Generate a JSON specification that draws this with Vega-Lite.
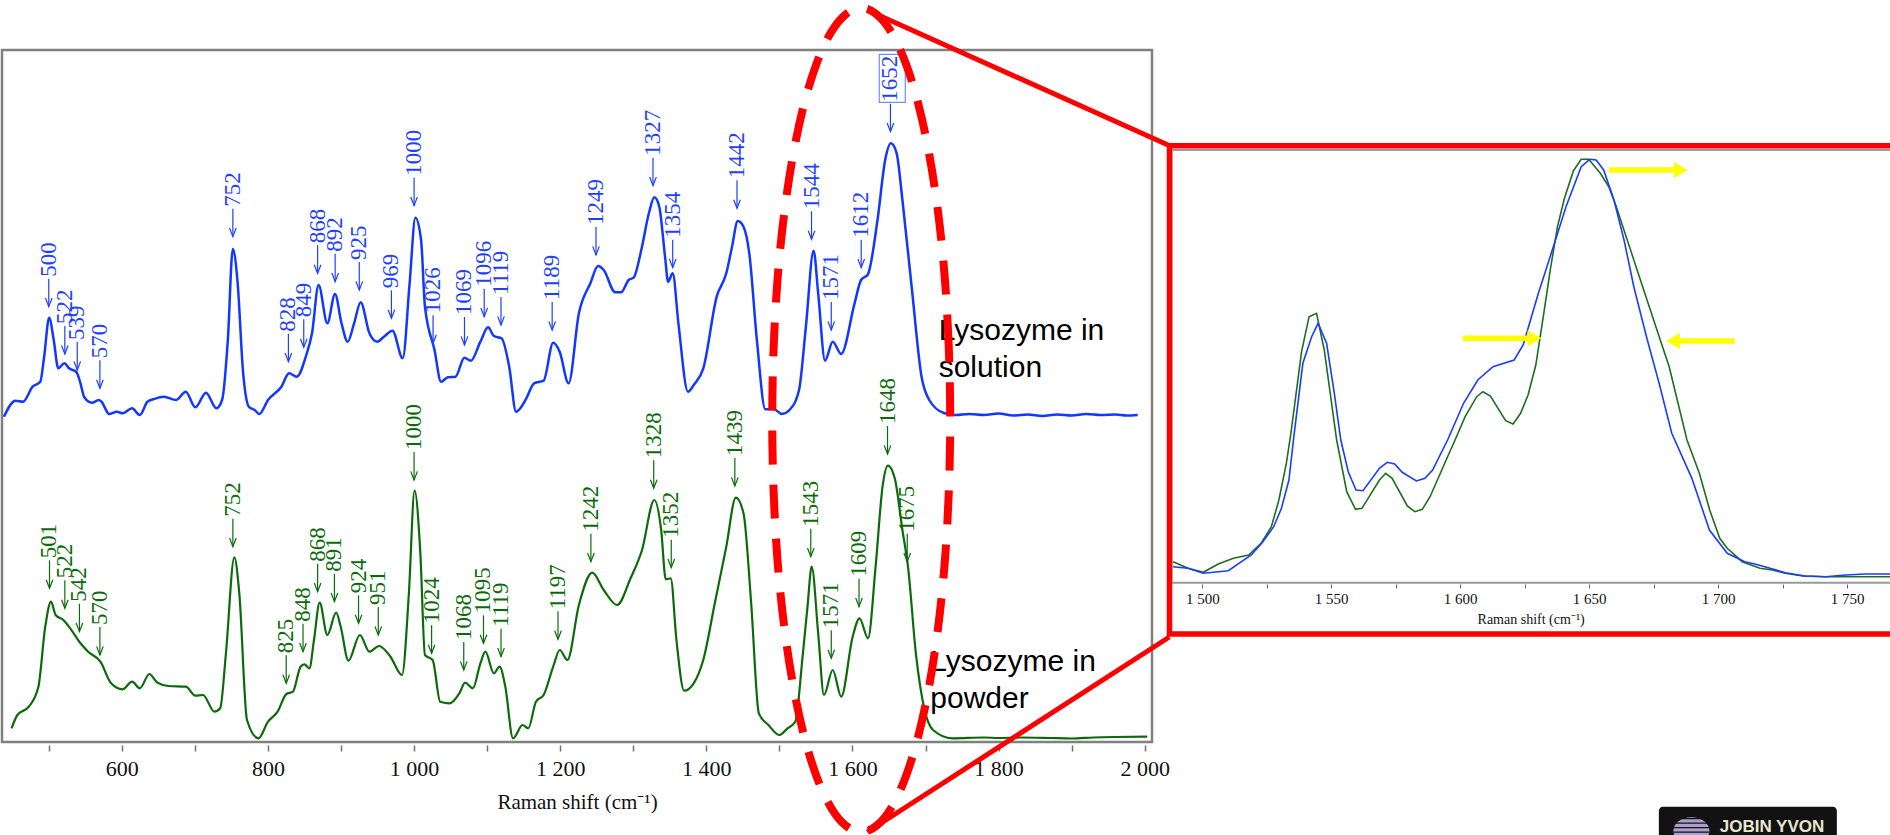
{
"$schema": "https://vega.github.io/schema/vega-lite/v6.json",
"width": 1890, "height": 835, "autosize": "none", "padding": 0, "background": "white",
"config": {"view": {"stroke": null}},
"datasets": {
 "blueLabels": [
  {"shift":500,"intensity":435.3,"label":"500"},{"shift":522,"intensity":388,"label":"522"},{"shift":539,"intensity":372,"label":"539"},{"shift":570,"intensity":353.7,"label":"570"},{"shift":752,"intensity":505.3,"label":"752"},{"shift":828,"intensity":380.3,"label":"828"},{"shift":849,"intensity":394.7,"label":"849"},{"shift":868,"intensity":468.7,"label":"868"},{"shift":892,"intensity":460.3,"label":"892"},{"shift":925,"intensity":452,"label":"925"},{"shift":969,"intensity":423.7,"label":"969"},{"shift":1000,"intensity":536.3,"label":"1000"},{"shift":1026,"intensity":398.7,"label":"1026"},{"shift":1069,"intensity":397,"label":"1069"},{"shift":1096,"intensity":425.3,"label":"1096"},{"shift":1119,"intensity":417,"label":"1119"},{"shift":1189,"intensity":412,"label":"1189"},{"shift":1249,"intensity":487,"label":"1249"},{"shift":1327,"intensity":556.3,"label":"1327"},{"shift":1354,"intensity":474.3,"label":"1354"},{"shift":1442,"intensity":533.7,"label":"1442"},{"shift":1544,"intensity":502.7,"label":"1544"},{"shift":1571,"intensity":412,"label":"1571"},{"shift":1612,"intensity":474.3,"label":"1612"},{"shift":1652,"intensity":610.3,"label":"1652"}
 ],
 "greenLabels": [
  {"shift":501,"intensity":153.7,"label":"501"},{"shift":522,"intensity":133.7,"label":"522"},{"shift":542,"intensity":110.3,"label":"542"},{"shift":570,"intensity":87,"label":"570"},{"shift":752,"intensity":195.3,"label":"752"},{"shift":825,"intensity":58.7,"label":"825"},{"shift":848,"intensity":90.3,"label":"848"},{"shift":868,"intensity":150.3,"label":"868"},{"shift":891,"intensity":140.3,"label":"891"},{"shift":924,"intensity":118.7,"label":"924"},{"shift":951,"intensity":107,"label":"951"},{"shift":1000,"intensity":262,"label":"1000"},{"shift":1024,"intensity":88.7,"label":"1024"},{"shift":1068,"intensity":72,"label":"1068"},{"shift":1095,"intensity":98.7,"label":"1095"},{"shift":1119,"intensity":85.3,"label":"1119"},{"shift":1197,"intensity":102.7,"label":"1197"},{"shift":1242,"intensity":180.3,"label":"1242"},{"shift":1328,"intensity":253.7,"label":"1328"},{"shift":1352,"intensity":174.3,"label":"1352"},{"shift":1439,"intensity":256,"label":"1439"},{"shift":1543,"intensity":185.3,"label":"1543"},{"shift":1571,"intensity":83.7,"label":"1571"},{"shift":1609,"intensity":135.3,"label":"1609"},{"shift":1648,"intensity":288,"label":"1648"},{"shift":1675,"intensity":180.3,"label":"1675"}
 ]
},
"resolve": {"scale": {"x": "independent", "y": "independent"}, "axis": {"x": "independent", "y": "independent"}},
"layer": [
{
"encoding": {
 "x": {"field": "shift", "type": "quantitative", "scale": {"domain": [436, 2010], "range": [2, 1152], "nice": false, "zero": false},
  "axis": {"orient": "bottom", "offset": -90, "title": "Raman shift (cm⁻¹)", "values": [500,600,700,800,900,1000,1100,1200,1300,1400,1500,1600,1700,1800,1900,2000],
   "labelExpr": "datum.value % 200 == 0 ? replace(format(datum.value, ','), ',', ' ') : ''",
   "domain": false, "grid": false, "tickSize": 6, "tickColor": "#707070", "tickWidth": 1.5,
   "labelFont": "Liberation Serif", "labelFontSize": 22, "labelColor": "#111", "labelPadding": 7, "labelOverlap": false, "labelFlush": false,
   "titleFont": "Liberation Serif", "titleFontSize": 21, "titleFontWeight": "normal", "titleColor": "#111", "titlePadding": 12}},
 "y": {"field": "intensity", "type": "quantitative", "scale": {"domain": [0, 692], "range": [742, 50], "nice": false, "zero": false}, "axis": null}
},
"layer": [
 {"data": {"values": [{"shift": 436, "shift2": 2010, "intensity": 0, "intensity2": 692}]},
  "mark": {"type": "rect", "filled": false, "color": "#808080", "strokeWidth": 2.5},
  "encoding": {"x2": {"field": "shift2"}, "y2": {"field": "intensity2"}}},
 {"data": {"values": [
  {"shift":449.1,"intensity":13.7},{"shift":457,"intensity":27},{"shift":472.7,"intensity":35.3},{"shift":485.8,"intensity":55.3},{"shift":495.2,"intensity":115.3},{"shift":503.1,"intensity":140.3},{"shift":509.4,"intensity":127},{"shift":519.9,"intensity":122},{"shift":530.3,"intensity":112.7},{"shift":543.4,"intensity":98.7},{"shift":553.9,"intensity":90.3},{"shift":570.7,"intensity":80.3},{"shift":585.3,"intensity":58.7},{"shift":601,"intensity":52.7},{"shift":614.1,"intensity":60.3},{"shift":624.6,"intensity":53.7},{"shift":637.7,"intensity":68},{"shift":648.2,"intensity":59.7},{"shift":663.9,"intensity":56},{"shift":687.5,"intensity":55.3},{"shift":700.6,"intensity":46.3},{"shift":711.1,"intensity":47},{"shift":726.8,"intensity":30.3},{"shift":734.6,"intensity":33.7},{"shift":742.5,"intensity":88.7},{"shift":754,"intensity":184.7},{"shift":760.8,"intensity":148.7},{"shift":771.3,"intensity":22},{"shift":787,"intensity":3.7},{"shift":800.1,"intensity":20.3},{"shift":813.2,"intensity":30.3},{"shift":825.2,"intensity":48},{"shift":834.2,"intensity":50.3},{"shift":844.6,"intensity":75.3},{"shift":849.9,"intensity":77.7},{"shift":856.7,"intensity":73.7},{"shift":863,"intensity":102},{"shift":870.8,"intensity":139.3},{"shift":881.3,"intensity":107},{"shift":893.3,"intensity":129.3},{"shift":899.6,"intensity":115.3},{"shift":910.1,"intensity":81.3},{"shift":925.8,"intensity":107},{"shift":938.9,"intensity":90.3},{"shift":952,"intensity":96},{"shift":967.7,"intensity":85.3},{"shift":983.5,"intensity":67},{"shift":992.9,"intensity":148.7},{"shift":1000.7,"intensity":251.3},{"shift":1008.6,"intensity":188.7},{"shift":1014.9,"intensity":87},{"shift":1025.4,"intensity":82},{"shift":1035.8,"intensity":40.3},{"shift":1049,"intensity":38.7},{"shift":1062,"intensity":48.7},{"shift":1069.9,"intensity":59.3},{"shift":1080.4,"intensity":53.7},{"shift":1090.8,"intensity":78.7},{"shift":1097.6,"intensity":90.3},{"shift":1109.2,"intensity":68.7},{"shift":1117,"intensity":75.3},{"shift":1124.9,"intensity":55.3},{"shift":1135.4,"intensity":3.7},{"shift":1148.5,"intensity":17},{"shift":1156.3,"intensity":13.7},{"shift":1166.8,"intensity":40.3},{"shift":1177.3,"intensity":47},{"shift":1190.4,"intensity":75.3},{"shift":1199.4,"intensity":92},{"shift":1209.8,"intensity":82},{"shift":1225.6,"intensity":137},{"shift":1243.9,"intensity":169.3},{"shift":1259.6,"intensity":152},{"shift":1277.9,"intensity":137},{"shift":1296.3,"intensity":163.7},{"shift":1312,"intensity":192},{"shift":1328.8,"intensity":242},{"shift":1338.2,"intensity":212},{"shift":1344.5,"intensity":162.7},{"shift":1351.3,"intensity":163.7},{"shift":1359.1,"intensity":102},{"shift":1369.6,"intensity":51.3},{"shift":1382.7,"intensity":58.7},{"shift":1395.8,"intensity":82},{"shift":1411.6,"intensity":138.7},{"shift":1427.3,"intensity":195.3},{"shift":1440.4,"intensity":244.3},{"shift":1450.9,"intensity":228.7},{"shift":1461.4,"intensity":138.7},{"shift":1471.9,"intensity":28.7},{"shift":1485,"intensity":17},{"shift":1499.7,"intensity":7},{"shift":1511.2,"intensity":13.7},{"shift":1521.7,"intensity":20.3},{"shift":1532.2,"intensity":88.7},{"shift":1538.5,"intensity":135.3},{"shift":1544.2,"intensity":175.3},{"shift":1553.1,"intensity":108.7},{"shift":1561,"intensity":47},{"shift":1573,"intensity":72},{"shift":1584.6,"intensity":45.3},{"shift":1600.3,"intensity":105.3},{"shift":1609.7,"intensity":123.7},{"shift":1621.3,"intensity":103.7},{"shift":1631.7,"intensity":175.3},{"shift":1641.2,"intensity":255.3},{"shift":1648.5,"intensity":276.3},{"shift":1657.9,"intensity":263.7},{"shift":1668.4,"intensity":212},{"shift":1676.3,"intensity":173.7},{"shift":1686.8,"intensity":88.7},{"shift":1698.8,"intensity":32},{"shift":1710.3,"intensity":12},{"shift":1736.5,"intensity":3.7},{"shift":1780,"intensity":4.5},{"shift":1800,"intensity":4},{"shift":1830,"intensity":4.5},{"shift":1870,"intensity":4},{"shift":1900,"intensity":3.5},{"shift":1930,"intensity":4.5},{"shift":1960,"intensity":5},{"shift":2003.5,"intensity":5.3}
  ]},
  "mark": {"type": "line", "color": "#0b6b0b", "strokeWidth": 2.2, "interpolate": "monotone"}},
 {"data": {"values": [
  {"shift":438.7,"intensity":325.3},{"shift":454.4,"intensity":341.3},{"shift":464.8,"intensity":340.3},{"shift":477.9,"intensity":355.3},{"shift":488.4,"intensity":360.3},{"shift":493.7,"intensity":385.3},{"shift":500.5,"intensity":424.3},{"shift":506.8,"intensity":402},{"shift":513,"intensity":373.7},{"shift":521.4,"intensity":378.7},{"shift":527.7,"intensity":373.7},{"shift":538.2,"intensity":369.7},{"shift":543.4,"intensity":358.7},{"shift":548.7,"intensity":344.7},{"shift":559.1,"intensity":339.3},{"shift":568.6,"intensity":342},{"shift":572.2,"intensity":340.3},{"shift":582.7,"intensity":328},{"shift":593.2,"intensity":330.3},{"shift":601,"intensity":328.7},{"shift":614.1,"intensity":333.7},{"shift":624.6,"intensity":327},{"shift":635.1,"intensity":340.3},{"shift":643,"intensity":342.7},{"shift":657.6,"intensity":345.3},{"shift":674.4,"intensity":342},{"shift":687.5,"intensity":350.3},{"shift":700.6,"intensity":334.7},{"shift":715.2,"intensity":349.3},{"shift":729.4,"intensity":333.7},{"shift":737.2,"intensity":342},{"shift":745.1,"intensity":402},{"shift":751.9,"intensity":493},{"shift":758.2,"intensity":462},{"shift":766.1,"intensity":368.7},{"shift":773.9,"intensity":335.3},{"shift":781.8,"intensity":332},{"shift":788.1,"intensity":328},{"shift":800.1,"intensity":342},{"shift":818.4,"intensity":355.3},{"shift":828.9,"intensity":368.7},{"shift":839.4,"intensity":365.3},{"shift":852.5,"intensity":387},{"shift":860.3,"intensity":408.7},{"shift":869.3,"intensity":457},{"shift":881.3,"intensity":418.7},{"shift":891.8,"intensity":448},{"shift":900.7,"intensity":418.7},{"shift":909.1,"intensity":400.3},{"shift":917.9,"intensity":418.7},{"shift":926.9,"intensity":439.7},{"shift":938.9,"intensity":408.7},{"shift":949.4,"intensity":400.3},{"shift":958.8,"intensity":405.3},{"shift":970.4,"intensity":411.3},{"shift":984.5,"intensity":383.7},{"shift":993.9,"intensity":458.7},{"shift":1001.8,"intensity":524.3},{"shift":1009.6,"intensity":502},{"shift":1014.9,"intensity":435.3},{"shift":1028,"intensity":392},{"shift":1036.9,"intensity":360.3},{"shift":1046.3,"intensity":364.7},{"shift":1056.8,"intensity":365.3},{"shift":1068.8,"intensity":384.3},{"shift":1077.7,"intensity":381.3},{"shift":1090.8,"intensity":400.3},{"shift":1101.3,"intensity":414.7},{"shift":1109.2,"intensity":406},{"shift":1119.7,"intensity":403.7},{"shift":1130.2,"intensity":375.3},{"shift":1139.6,"intensity":330.3},{"shift":1146.9,"intensity":335.3},{"shift":1153.7,"intensity":343.7},{"shift":1164.2,"intensity":358.7},{"shift":1177.3,"intensity":361.3},{"shift":1190.4,"intensity":399.3},{"shift":1199.3,"intensity":390.3},{"shift":1211.5,"intensity":358.7},{"shift":1225.6,"intensity":428.7},{"shift":1241.3,"intensity":458.7},{"shift":1251.8,"intensity":476},{"shift":1259.6,"intensity":472},{"shift":1275.3,"intensity":449.7},{"shift":1283.2,"intensity":449.7},{"shift":1293.7,"intensity":462},{"shift":1300.5,"intensity":464.3},{"shift":1311,"intensity":492},{"shift":1321.4,"intensity":528.7},{"shift":1328.8,"intensity":544.7},{"shift":1335.6,"intensity":535.3},{"shift":1343.5,"intensity":485.3},{"shift":1347.7,"intensity":460.3},{"shift":1354,"intensity":468.7},{"shift":1361.8,"intensity":418.7},{"shift":1374.9,"intensity":350.3},{"shift":1382.8,"intensity":357},{"shift":1395.9,"intensity":373.7},{"shift":1414.2,"intensity":445.3},{"shift":1427.3,"intensity":468.7},{"shift":1435.2,"intensity":495.3},{"shift":1443,"intensity":521},{"shift":1450.9,"intensity":515.3},{"shift":1458.8,"intensity":488.7},{"shift":1469.2,"intensity":402},{"shift":1480.8,"intensity":332.7},{"shift":1492.8,"intensity":332.7},{"shift":1503.3,"intensity":328},{"shift":1513.8,"intensity":332},{"shift":1526.9,"intensity":352},{"shift":1536.3,"intensity":415.3},{"shift":1546.8,"intensity":491.3},{"shift":1553.1,"intensity":448.7},{"shift":1562.5,"intensity":381.3},{"shift":1573,"intensity":400.3},{"shift":1584.5,"intensity":388},{"shift":1602.9,"intensity":438.7},{"shift":1611.8,"intensity":462},{"shift":1621.2,"intensity":467.7},{"shift":1634.3,"intensity":522},{"shift":1644.8,"intensity":582},{"shift":1652.6,"intensity":598.7},{"shift":1660.5,"intensity":588.7},{"shift":1668.4,"intensity":542},{"shift":1681.5,"intensity":452},{"shift":1694.6,"intensity":365.3},{"shift":1705.1,"intensity":342},{"shift":1726,"intensity":328.7},{"shift":1741.7,"intensity":327},{"shift":1760,"intensity":328},{"shift":1780,"intensity":327},{"shift":1800,"intensity":328.5},{"shift":1820,"intensity":326.5},{"shift":1840,"intensity":327.5},{"shift":1860,"intensity":326},{"shift":1880,"intensity":327.5},{"shift":1900,"intensity":326.5},{"shift":1920,"intensity":328},{"shift":1940,"intensity":327},{"shift":1960,"intensity":327.5},{"shift":1975,"intensity":326.5},{"shift":1990.5,"intensity":327}
  ]},
  "mark": {"type": "line", "color": "#1238ff", "strokeWidth": 2.5, "interpolate": "monotone"}},
 {"data": {"name": "blueLabels"},
  "mark": {"type": "rule", "color": "#1f3fff", "strokeWidth": 1.2, "y2Offset": -28},
  "encoding": {"y2": {"field": "intensity"}}},
 {"data": {"name": "blueLabels"},
  "mark": {"type": "point", "shape": "M -1 -2.6 L 0 0 L 1 -2.6", "size": 44, "filled": false, "opacity": 1, "color": "#1f3fff", "strokeWidth": 1.2}},
 {"data": {"name": "blueLabels"},
  "mark": {"type": "text", "angle": 270, "align": "left", "baseline": "middle", "dx": 30, "font": "Liberation Serif", "fontSize": 23, "color": "#1f3fff"},
  "encoding": {"text": {"field": "label"}}},
 {"data": {"name": "greenLabels"},
  "mark": {"type": "rule", "color": "#0b6b0b", "strokeWidth": 1.2, "y2Offset": -28},
  "encoding": {"y2": {"field": "intensity"}}},
 {"data": {"name": "greenLabels"},
  "mark": {"type": "point", "shape": "M -1 -2.6 L 0 0 L 1 -2.6", "size": 44, "filled": false, "opacity": 1, "color": "#0b6b0b", "strokeWidth": 1.2}},
 {"data": {"name": "greenLabels"},
  "mark": {"type": "text", "angle": 270, "align": "left", "baseline": "middle", "dx": 30, "font": "Liberation Serif", "fontSize": 23, "color": "#0b6b0b"},
  "encoding": {"text": {"field": "label"}}},
 {"data": {"values": [{"shift": 1636.7, "shift2": 1672.3, "intensity": 639.7, "intensity2": 687.7}]},
  "mark": {"type": "rect", "filled": false, "color": "#6f8cff", "strokeWidth": 1.2},
  "encoding": {"x2": {"field": "shift2"}, "y2": {"field": "intensity2"}}},
 {"data": {"values": [
  {"shift": 1718, "intensity": 402, "label": "Lysozyme in"},{"shift": 1718, "intensity": 365, "label": "solution"},
  {"shift": 1706.5, "intensity": 71.3, "label": "Lysozyme in"},{"shift": 1706.5, "intensity": 34.5, "label": "powder"}]},
  "mark": {"type": "text", "align": "left", "baseline": "alphabetic", "font": "Liberation Sans", "fontSize": 30, "color": "#000"},
  "encoding": {"text": {"field": "label"}}},
 {"data": {"values": [
  {"i":0,"shift":1733.8,"intensity":322},{"i":1,"shift":1731.9,"intensity":393.5},{"i":2,"shift":1726.5,"intensity":462.9},{"i":3,"shift":1717.5,"intensity":528},{"i":4,"shift":1705.3,"intensity":586.8},{"i":5,"shift":1690.3,"intensity":637.6},{"i":6,"shift":1672.9,"intensity":678.8},{"i":7,"shift":1653.7,"intensity":709.2},{"i":8,"shift":1633.1,"intensity":727.7},{"i":9,"shift":1612,"intensity":734},{"i":10,"shift":1590.9,"intensity":727.7},{"i":11,"shift":1570.3,"intensity":709.2},{"i":12,"shift":1551.1,"intensity":678.8},{"i":13,"shift":1533.7,"intensity":637.6},{"i":14,"shift":1518.7,"intensity":586.8},{"i":15,"shift":1506.5,"intensity":528},{"i":16,"shift":1497.5,"intensity":462.9},{"i":17,"shift":1492.1,"intensity":393.5},{"i":18,"shift":1490.2,"intensity":322},{"i":19,"shift":1492.1,"intensity":250.5},{"i":20,"shift":1497.5,"intensity":181.1},{"i":21,"shift":1506.5,"intensity":116},{"i":22,"shift":1518.7,"intensity":57.2},{"i":23,"shift":1533.7,"intensity":6.4},{"i":24,"shift":1551.1,"intensity":-34.8},{"i":25,"shift":1570.3,"intensity":-65.2},{"i":26,"shift":1590.9,"intensity":-83.7},{"i":27,"shift":1612,"intensity":-90},{"i":28,"shift":1633.1,"intensity":-83.7},{"i":29,"shift":1653.7,"intensity":-65.2},{"i":30,"shift":1672.9,"intensity":-34.8},{"i":31,"shift":1690.3,"intensity":6.4},{"i":32,"shift":1705.3,"intensity":57.2},{"i":33,"shift":1717.5,"intensity":116},{"i":34,"shift":1726.5,"intensity":181.1},{"i":35,"shift":1731.9,"intensity":250.5}
  ]},
  "mark": {"type": "line", "color": "#ff0000", "strokeWidth": 8, "strokeDash": [34, 20], "interpolate": "cardinal-closed"},
  "encoding": {"order": {"field": "i", "type": "quantitative"}}},
 {"data": {"values": [
  {"shift": 1625.3, "intensity": 730.3, "shift2": 2035, "intensity2": 596},
  {"shift": 1620.3, "intensity": -90, "shift2": 2033.7, "intensity2": 105}]},
  "mark": {"type": "rule", "color": "#ff0000", "strokeWidth": 5},
  "encoding": {"x2": {"field": "shift2"}, "y2": {"field": "intensity2"}}}
]
},
{
"encoding": {
 "x": {"field": "shift", "type": "quantitative", "scale": {"domain": [1488, 1766.6], "range": [1171.3, 1890], "nice": false, "zero": false},
  "axis": {"orient": "bottom", "offset": -251, "title": "Raman shift (cm⁻¹)", "values": [1500,1525,1550,1575,1600,1625,1650,1675,1700,1725,1750],
   "labelExpr": "datum.value % 50 == 0 ? replace(format(datum.value, ','), ',', ' ') : ''",
   "domain": false, "grid": false, "tickSize": 4, "tickColor": "#666", "tickWidth": 1,
   "labelFont": "Liberation Serif", "labelFontSize": 15, "labelColor": "#111", "labelPadding": 3, "labelOverlap": false, "labelFlush": false,
   "titleFont": "Liberation Serif", "titleFontSize": 14, "titleFontWeight": "normal", "titleColor": "#111", "titlePadding": 6}},
 "y": {"field": "intensity", "type": "quantitative", "scale": {"domain": [0, 432.7], "range": [582.7, 150], "nice": false, "zero": false}, "axis": null}
},
"layer": [
 {"data": {"values": [{"shift": 1488.1, "shift2": 1800, "intensity": 0, "intensity2": 432.7}]},
  "mark": {"type": "rect", "filled": false, "color": "#9a9a9a", "strokeWidth": 2},
  "encoding": {"x2": {"field": "shift2"}, "y2": {"field": "intensity2"}}},
 {"data": {"values": [
  {"shift":1488.7,"intensity":21},{"shift":1494.5,"intensity":14.4},{"shift":1500.4,"intensity":10.4},{"shift":1506.2,"intensity":18.7},{"shift":1512.1,"intensity":24.4},{"shift":1518,"intensity":27.7},{"shift":1522.8,"intensity":39.4},{"shift":1526.8,"intensity":56},{"shift":1529.7,"intensity":82.7},{"shift":1532.6,"intensity":119.4},{"shift":1534.4,"intensity":150},{"shift":1538.5,"intensity":231},{"shift":1541.4,"intensity":266},{"shift":1544.3,"intensity":269.4},{"shift":1547.3,"intensity":232.7},{"shift":1552.1,"intensity":142.7},{"shift":1556,"intensity":91},{"shift":1559.4,"intensity":73.4},{"shift":1561.9,"intensity":74.4},{"shift":1568.7,"intensity":102.7},{"shift":1571.1,"intensity":109.4},{"shift":1573.6,"intensity":104.4},{"shift":1579.5,"intensity":76.7},{"shift":1582.4,"intensity":71},{"shift":1585.3,"intensity":73.4},{"shift":1588.3,"intensity":86},{"shift":1595.1,"intensity":126},{"shift":1598,"intensity":142.7},{"shift":1601.9,"intensity":166},{"shift":1606.4,"intensity":186},{"shift":1608.8,"intensity":191},{"shift":1611.7,"intensity":186.7},{"shift":1617.6,"intensity":162},{"shift":1620.5,"intensity":158.7},{"shift":1623.4,"intensity":169.4},{"shift":1626.3,"intensity":187.7},{"shift":1629.3,"intensity":217.7},{"shift":1632.2,"intensity":266},{"shift":1635.1,"intensity":316},{"shift":1637.7,"intensity":356},{"shift":1640.4,"intensity":384.4},{"shift":1643.9,"intensity":412},{"shift":1646.9,"intensity":423.4},{"shift":1649.8,"intensity":423.4},{"shift":1654.3,"intensity":409.4},{"shift":1657.6,"intensity":396},{"shift":1660.5,"intensity":376},{"shift":1667.3,"intensity":322.7},{"shift":1675.2,"intensity":261},{"shift":1681,"intensity":216},{"shift":1687.9,"intensity":142.7},{"shift":1692.7,"intensity":109.4},{"shift":1696.7,"intensity":72.7},{"shift":1700.6,"intensity":44.4},{"shift":1703.5,"intensity":34.4},{"shift":1709.3,"intensity":21},{"shift":1716.2,"intensity":14.4},{"shift":1721,"intensity":12.7},{"shift":1726,"intensity":9.4},{"shift":1732.8,"intensity":6.7},{"shift":1741.6,"intensity":6},{"shift":1753.3,"intensity":6},{"shift":1766.6,"intensity":6}
  ]},
  "mark": {"type": "line", "color": "#1d6f1d", "strokeWidth": 1.6}},
 {"data": {"values": [
  {"shift":1488.7,"intensity":16},{"shift":1494.5,"intensity":14.4},{"shift":1500.4,"intensity":9.4},{"shift":1510.1,"intensity":12},{"shift":1519,"intensity":27.7},{"shift":1523.2,"intensity":40},{"shift":1527.7,"intensity":56},{"shift":1530.7,"intensity":74.4},{"shift":1533.6,"intensity":102.7},{"shift":1535.5,"intensity":146},{"shift":1539,"intensity":219.4},{"shift":1542.4,"intensity":246},{"shift":1544.9,"intensity":259.4},{"shift":1548.2,"intensity":239.4},{"shift":1551.2,"intensity":189.4},{"shift":1553.7,"intensity":142.7},{"shift":1556.6,"intensity":111},{"shift":1559.6,"intensity":92.7},{"shift":1562.3,"intensity":92},{"shift":1568.7,"intensity":114.4},{"shift":1571.7,"intensity":120.4},{"shift":1574.6,"intensity":118.7},{"shift":1577.5,"intensity":110.4},{"shift":1583,"intensity":101.7},{"shift":1586.3,"intensity":104.4},{"shift":1589.3,"intensity":112.7},{"shift":1595.1,"intensity":142.7},{"shift":1601.3,"intensity":179.4},{"shift":1606.8,"intensity":202.7},{"shift":1612.7,"intensity":216},{"shift":1620.9,"intensity":222.7},{"shift":1624.4,"intensity":237.7},{"shift":1630.3,"intensity":289.4},{"shift":1636.1,"intensity":336},{"shift":1641,"intensity":376},{"shift":1646.9,"intensity":416},{"shift":1650.2,"intensity":423.4},{"shift":1652.7,"intensity":422.7},{"shift":1655.6,"intensity":412.7},{"shift":1659.6,"intensity":382.7},{"shift":1663.5,"intensity":342.7},{"shift":1667.3,"intensity":296},{"shift":1672.2,"intensity":246},{"shift":1677.1,"intensity":199.4},{"shift":1682,"intensity":149.4},{"shift":1689.8,"intensity":104.4},{"shift":1696.6,"intensity":52.7},{"shift":1703.5,"intensity":29.4},{"shift":1710.3,"intensity":21},{"shift":1714.2,"intensity":18.7},{"shift":1720.1,"intensity":14.4},{"shift":1726,"intensity":10},{"shift":1733.7,"intensity":6.7},{"shift":1741.6,"intensity":6},{"shift":1749.4,"intensity":7.7},{"shift":1757.2,"intensity":8.7},{"shift":1766.6,"intensity":8.7}
  ]},
  "mark": {"type": "line", "color": "#1a3cff", "strokeWidth": 1.6}},
 {"data": {"values": [
  {"shift": 1657.6, "shift2": 1685.5, "intensity": 412.7},
  {"shift": 1601, "shift2": 1628.8, "intensity": 244.4},
  {"shift": 1706.4, "shift2": 1682.5, "intensity": 241.7}]},
  "mark": {"type": "rule", "color": "#ffff00", "strokeWidth": 5.5},
  "encoding": {"x2": {"field": "shift2"}}},
 {"data": {"values": [
  {"shift": 1685.5, "intensity": 412.7, "dir": "right"},
  {"shift": 1628.8, "intensity": 244.4, "dir": "right"},
  {"shift": 1682.5, "intensity": 241.7, "dir": "left"}]},
  "mark": {"type": "point", "filled": true, "color": "#ffff00", "opacity": 1, "size": 260},
  "encoding": {"shape": {"field": "dir", "type": "nominal", "scale": {"domain": ["right", "left"], "range": ["triangle-right", "triangle-left"]}, "legend": null}}},
 {"data": {"values": [{"shift": 1487.3, "shift2": 1785, "intensity": -51.3, "intensity2": 437}]},
  "mark": {"type": "rect", "filled": false, "color": "#ff0000", "strokeWidth": 5.5},
  "encoding": {"x2": {"field": "shift2"}, "y2": {"field": "intensity2"}}},
 {"data": {"values": [{"shift": 1677, "shift2": 1746, "intensity": -262, "intensity2": -224}]},
  "mark": {"type": "rect", "color": "#121212", "cornerRadius": 4},
  "encoding": {"x2": {"field": "shift2"}, "y2": {"field": "intensity2"}}},
 {"data": {"values": [{"shift": 1689.6, "intensity": -248}]},
  "mark": {"type": "point", "shape": "M -1 0 A 1 0.75 0 1 1 1 0 A 1 0.75 0 1 1 -1 0 Z", "filled": true, "color": "#ab9fcc", "opacity": 1, "size": 1300}},
 {"data": {"values": [
  {"shift": 1683, "shift2": 1696, "intensity": -236},
  {"shift": 1682.5, "shift2": 1696.5, "intensity": -240.5},
  {"shift": 1682.5, "shift2": 1696.5, "intensity": -245},
  {"shift": 1682.5, "shift2": 1696.5, "intensity": -249.5}]},
  "mark": {"type": "rule", "color": "#121212", "strokeWidth": 1.3},
  "encoding": {"x2": {"field": "shift2"}}},
 {"data": {"values": [{"shift": 1700.6, "intensity": -249, "label": "JOBIN YVON"}]},
  "mark": {"type": "text", "align": "left", "baseline": "alphabetic", "font": "Liberation Sans", "fontWeight": "bold", "fontSize": 17, "color": "#e8e6cf"},
  "encoding": {"text": {"field": "label"}}}
]
}
]
}
